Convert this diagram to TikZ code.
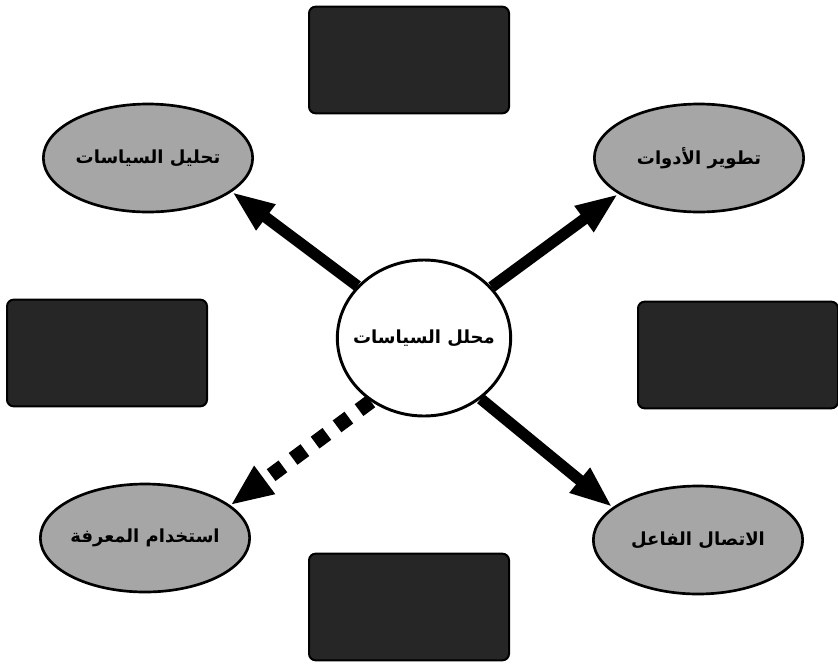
\documentclass[tikz,border=0pt]{standalone}
\usepackage{fontspec}
\usetikzlibrary{shapes.geometric,arrows.meta}
\newfontfamily\arabicfont[Script=Arabic]{DejaVu Sans}
\TeXXeTstate=1
\newcommand{\artext}[1]{\makebox[0pt]{\beginR #1\endR}}
\tikzset{
  darkbox/.style={draw=black, line width=1.5pt, fill=black!85, rounded corners=5pt, minimum width=150pt, minimum height=80pt, inner sep=0pt},
  oval/.style={ellipse, draw=black, line width=2pt, fill=black!35, minimum width=157pt, minimum height=81pt, inner sep=0pt, font=\arabicfont\bfseries\fontsize{13.5}{15}\selectfont},
  hub/.style={ellipse, draw=black, line width=2.2pt, fill=white, minimum width=130pt, minimum height=117pt, inner sep=0pt, font=\arabicfont\bfseries\fontsize{13.5}{15}\selectfont},
  arr/.style={line width=8.5pt, -{Triangle[length=32pt, width=22pt]}},
  dasharr/.style={line width=11pt, dash pattern=on 11pt off 9.5pt, -{Triangle[length=32pt, width=24pt]}}
}
\begin{document}
\begin{tikzpicture}[x=0.75pt,y=-0.75pt]
\useasboundingbox (0,0) rectangle (838,665);
% dark boxes
\node[darkbox] (btop) at (409,60) {};
\node[darkbox] (bleft) at (107,353) {};
\node[darkbox] (bright) at (738,355) {};
\node[darkbox] (bbot) at (409,607) {};
% center
\node[hub] (c) at (424,338) {\artext{محلل السياسات}};
% ellipses
\node[oval] (tl) at (148,158) {\artext{تحليل السياسات}};
\node[oval] (tr) at (699,158) {\artext{تطوير الأدوات}};
\node[oval] (bl) at (145,538) {\artext{استخدام المعرفة}};
\node[oval] (br) at (698,540) {\artext{الاتصال الفاعل}};
% connectors
\draw[arr] (c.142) -- (tl.-22);
\draw[arr] (c.37) -- (tr.-156);
\draw[arr] (c.-47) -- (br.159);
\draw[dasharr] (c.-130) -- (bl.21);
\end{tikzpicture}
\end{document}
